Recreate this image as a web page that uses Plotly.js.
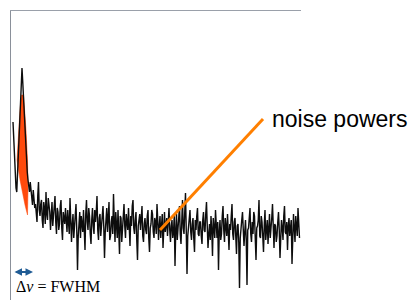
<!DOCTYPE html>
<html>
<head>
<meta charset="utf-8">
<script src="https://cdn.plot.ly/plotly-3.0.1.min.js"></script>
<style>
html,body{margin:0;padding:0;background:#fff;}
#chart{width:414px;height:300px;}
</style>
</head>
<body>
<div id="chart"></div>
<script>
// frequency bins start / spacing (arbitrary units)
var freqStart = 2;
var freqStep = 0.75;

// measured spectrum (power, arbitrary units): laser line then noise floor
var spectrumPower = [
  178, 160, 140, 124, 112, 108, 125, 150, 170, 190, 208, 222, 232, 218, 200,
  182, 165, 150, 140, 128, 120, 112, 108, 118, 112, 100, 95, 110, 102, 92,
  96,82,78,104,118,90,84,96,100,80,72,98,92,76,108,86,80,102,94,88,
  70,90,98,74,82,96,104,78,66,92,88,70,76,94,100,72,60,88,84,76,
  92,80,68,90,78,66,102,84,58,76,86,62,74,90,96,70,30,64,80,88,
  62,84,76,68,90,72,50,86,100,78,70,92,84,66,56,80,92,74,66,90,
  78,88,104,70,60,82,86,64,72,86,94,74,42,68,80,92,68,80,98,60,
  64,78,84,66,106,80,58,88,76,62,90,72,46,84,82,58,70,90,96,74,
  62,86,80,70,92,76,54,84,74,94,100,72,66,80,88,60,40,74,78,86,
  70,80,94,64,58,76,82,70,66,84,90,62,48,72,76,90,86,68,62,82,
  78,66,96,80,60,74,84,62,70,86,52,76,88,68,74,82,64,78,92,70,
  58,74,80,62,68,84,34,70,86,60,72,80,94,66,56,78,100,72,66,88,
  107,70,26,64,74,82,90,68,60,76,82,62,48,80,70,84,92,66,64,78,
  78,64,56,80,88,70,68,86,98,74,52,66,76,60,84,70,44,82,72,62,
  90,72,62,78,30,68,80,60,66,84,94,70,58,82,74,64,86,72,50,76,
  70,84,96,66,60,78,82,64,46,74,76,58,12,62,68,80,88,70,54,68,
  80,60,15,70,72,82,92,66,58,78,66,88,84,62,40,72,74,80,100,64,
  62,84,78,64,48,74,90,60,68,80,56,72,86,62,70,82,96,66,52,76,
  74,58,64,78,88,70,42,62,80,72,60,84,94,68,66,78,50,74,82,64,
  70,80,36,66,86,72,58,84,76,64,92,74,62
];

// highlighted line-width region (outline of the filled peak area)
var peakAreaFreq  = [10.5, 12.5, 15, 16.5, 17, 16.5, 14, 9, 6, 7, 9, 10.5];
var peakAreaPower = [205, 205, 170, 140, 110, 85, 95, 120, 140, 160, 190, 205];

// pointer line for the label
var pointerFreq  = [149, 252];
var pointerPower = [70, 181];

var traces = [
  {
    type: 'scatter', mode: 'lines',
    x: peakAreaFreq, y: peakAreaPower,
    fill: 'toself', fillcolor: '#ff4a0c',
    line: {color: '#ff4a0c', width: 0.5},
    hoverinfo: 'skip', showlegend: false
  },
  {
    type: 'scatter', mode: 'lines',
    x0: freqStart, dx: freqStep, y: spectrumPower,
    line: {color: '#0d0d0d', width: 1.4},
    showlegend: false
  },
  {
    type: 'scatter', mode: 'lines',
    x: pointerFreq, y: pointerPower,
    line: {color: '#ff7f00', width: 3},
    showlegend: false, hoverinfo: 'skip'
  }
];

var layout = {
  width: 414, height: 300,
  margin: {l: 11, r: 113, t: 11, b: 0, pad: 0},
  paper_bgcolor: '#ffffff', plot_bgcolor: '#ffffff',
  showlegend: false,
  xaxis: {
    range: [0, 290], side: 'top', showline: true, linecolor: '#9aa0aa', linewidth: 1.5,
    showgrid: false, zeroline: false, showticklabels: false, ticks: ''
  },
  yaxis: {
    range: [0, 289], showline: true, linecolor: '#8a909a', linewidth: 1.5,
    showgrid: false, zeroline: false, showticklabels: false, ticks: ''
  },
  annotations: [
    {
      xref: 'paper', yref: 'paper', x: 0.893, y: 0.626,
      xanchor: 'left', yanchor: 'middle', showarrow: false,
      text: 'noise powers',
      font: {family: 'Liberation Sans, Arial, sans-serif', size: 23, color: '#000000'}
    },
    {
      xref: 'paper', yref: 'paper', x: 0.012, y: 0.045,
      xanchor: 'left', yanchor: 'middle', showarrow: false,
      text: '\u0394<i>\u03bd</i> = FWHM',
      font: {family: 'Liberation Serif, Times New Roman, serif', size: 16, color: '#000000'}
    },
    {
      xref: 'x', yref: 'y', axref: 'x', ayref: 'y',
      x: 22, y: 28, ax: 2, ay: 28, text: '',
      showarrow: true, arrowside: 'end+start', arrowhead: 2,
      arrowsize: 0.75, arrowwidth: 2, arrowcolor: '#1f5b94', standoff: 0, startstandoff: 0
    }
  ]
};

Plotly.newPlot('chart', traces, layout, {displayModeBar: false, staticPlot: true});
</script>
</body>
</html>
